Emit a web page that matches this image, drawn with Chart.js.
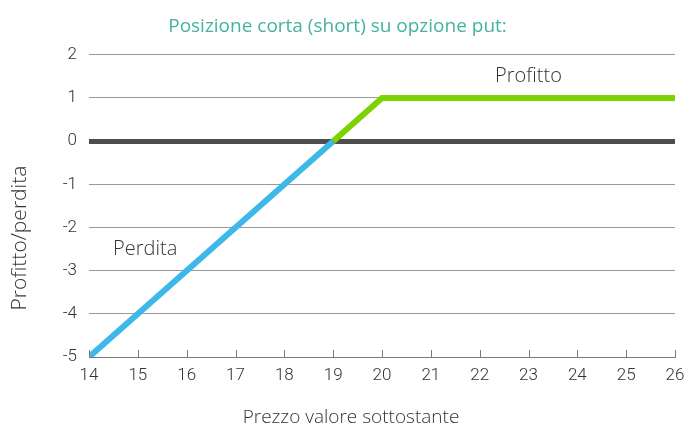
<!DOCTYPE html>
<html>
<head>
<meta charset="utf-8">
<script src="https://cdn.jsdelivr.net/npm/chart.js@4"></script>
<style>
  html, body { margin: 0; padding: 0; background: #fff; }
  #wrap { width: 685px; height: 426px; }
</style>
</head>
<body>
<div id="wrap"><canvas id="myChart"></canvas></div>
<script>
// data
const lossX = [14, 19];
const lossY = [-5, 0];
const profitX = [19, 20, 26];
const profitY = [0, 1, 1];
const xTicks = [14, 15, 16, 17, 18, 19, 20, 21, 22, 23, 24, 25, 26];
const yTicks = [-5, -4, -3, -2, -1, 0, 1, 2];
const labels = [
    { text: 'Profitto', x: 23, y: 1.5 },
    { text: 'Perdita', x: 15.15, y: -2.5 }
];
const xTitle = 'Prezzo valore sottostante';
const yTitle = 'Profitto/perdita';

const FONT = '"Open Sans"';
const TICKFONT = 'Roboto';

function pts(xs, ys) {
    return xs.map((x, i) => ({ x: x, y: ys[i] }));
}

// tick marks pointing up from the x axis, text labels, axis titles
const extras = {
    id: 'extras',
    afterDatasetsDraw(chart) {
        const ctx = chart.ctx;
        const xs = chart.scales.x;
        const ys = chart.scales.y;
        const bottom = chart.chartArea.bottom;
        ctx.save();
        ctx.strokeStyle = '#7a7a7a';
        ctx.lineWidth = 1;
        xTicks.forEach(v => {
            const px = Math.round(xs.getPixelForValue(v)) + 0.5;
            ctx.beginPath();
            ctx.moveTo(px, bottom);
            ctx.lineTo(px, bottom - 7);
            ctx.stroke();
        });
        ctx.fillStyle = '#333';
        ctx.font = '300 20px ' + FONT;
        ctx.textAlign = 'center';
        ctx.textBaseline = 'middle';
        labels.forEach(l => {
            ctx.fillText(l.text, xs.getPixelForValue(l.x), ys.getPixelForValue(l.y));
        });

        ctx.font = '300 19px ' + FONT;
        ctx.fillText(xTitle, 351, 418);

        ctx.translate(20, 238);
        ctx.rotate(-Math.PI / 2);
        ctx.font = '300 21px ' + FONT;
        ctx.fillText(yTitle, 0, 0);
        ctx.restore();
    }
};

new Chart(document.getElementById('myChart').getContext('2d'), {
    type: 'line',
    data: {
        datasets: [{
            data: pts(lossX, lossY),
            borderColor: '#3db8e9',
            borderWidth: 6,
            pointRadius: 0,
            tension: 0,
            borderCapStyle: 'butt'
        }, {
            data: pts(profitX, profitY),
            borderColor: '#7dd300',
            borderWidth: 6,
            pointRadius: 0,
            tension: 0,
            borderJoinStyle: 'miter'
        }]
    },
    options: {
        responsive: true,
        maintainAspectRatio: false,
        animation: false,
        layout: { padding: { left: 0, right: 10, top: 0, bottom: 0 } },
        plugins: {
            legend: { display: false },
            tooltip: { enabled: false },
            title: {
                display: true,
                text: 'Posizione corta (short) su opzione put:',
                color: '#45b39d',
                font: { family: FONT, size: 19, weight: '500' },
                padding: { top: 15, bottom: 17 }
            }
        },
        scales: {
            x: {
                type: 'linear',
                min: 14,
                max: 26,
                afterBuildTicks: s => { s.ticks = xTicks.map(v => ({ value: v })); },
                afterFit: s => { s.height = 69; s.paddingRight = 0; s.paddingLeft = 0; },
                ticks: {
                    color: '#333',
                    font: { family: TICKFONT, size: 17, weight: '300' },
                    padding: 9,
                    maxRotation: 0
                },
                grid: { drawOnChartArea: false, drawTicks: false },
                border: { display: true, color: '#7a7a7a', width: 1 }
            },
            y: {
                min: -5,
                max: 2,
                afterBuildTicks: s => { s.ticks = yTicks.map(v => ({ value: v })); },
                afterFit: s => { s.width = 89; },
                ticks: {
                    color: '#333',
                    font: { family: TICKFONT, size: 17, weight: '300' },
                    padding: 12
                },
                grid: {
                    drawTicks: false,
                    color: c => c.tick && c.tick.value === 0 ? '#4d4d4d' : '#9a9a9a',
                    lineWidth: c => c.tick && c.tick.value === 0 ? 5 : 1
                },
                border: { display: false }
            }
        }
    },
    plugins: [extras]
});
</script>
</body>
</html>
